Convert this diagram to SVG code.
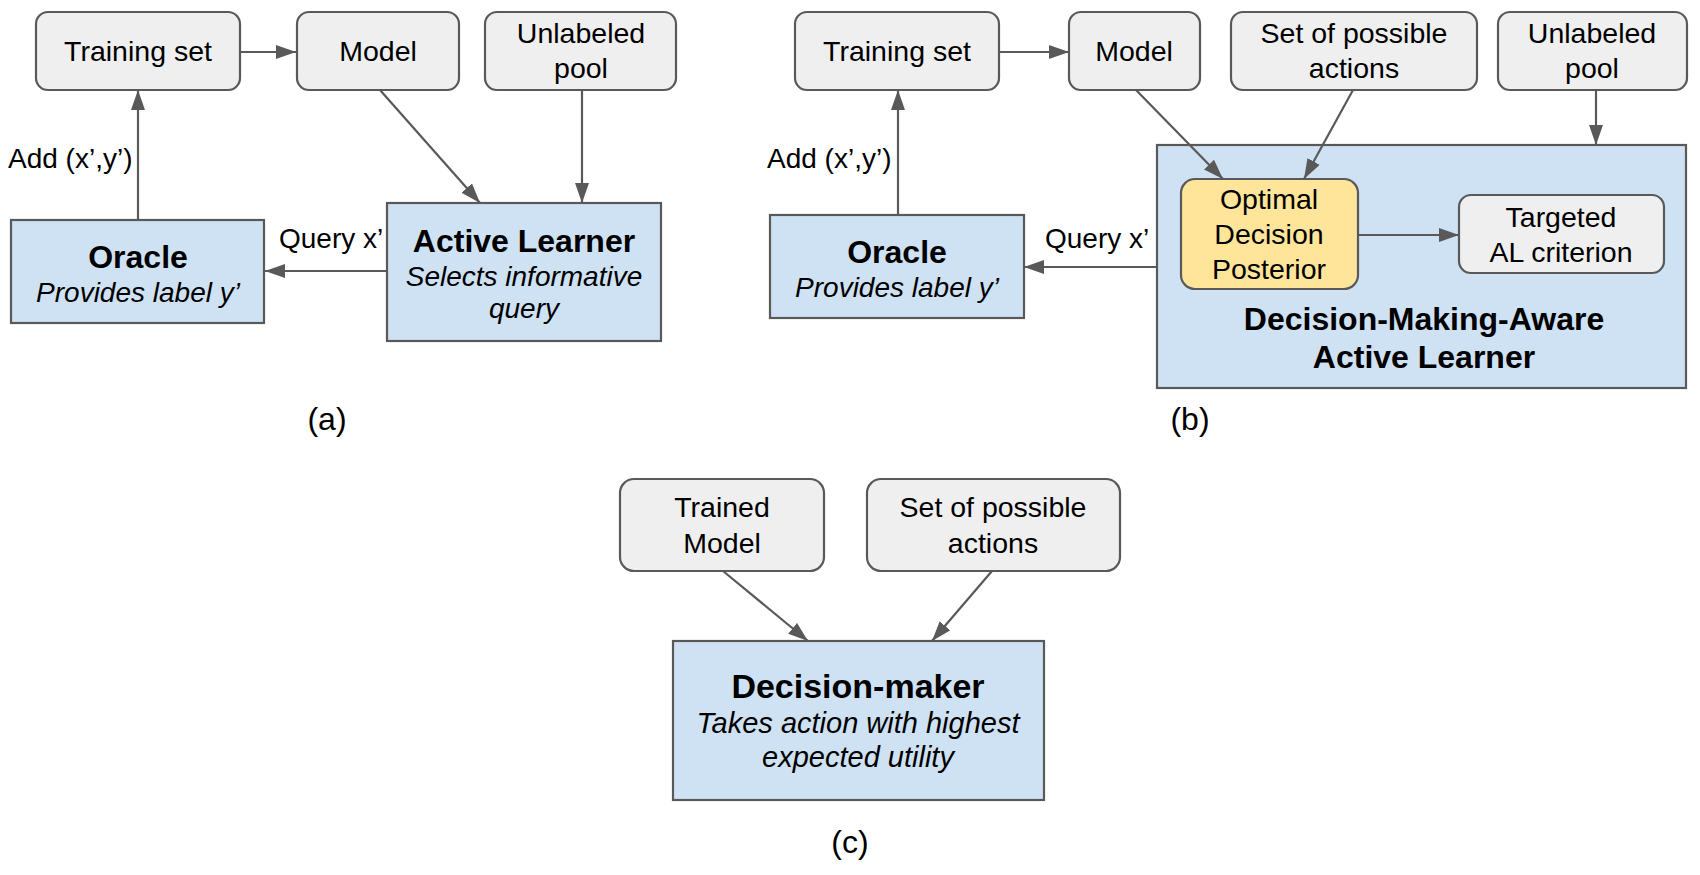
<svg xmlns="http://www.w3.org/2000/svg" width="1700" height="875" viewBox="0 0 1700 875">
<defs>
<marker id="ah" markerUnits="userSpaceOnUse" markerWidth="22" markerHeight="16" refX="20" refY="7" orient="auto">
<path d="M0,0 L20,7 L0,14 z" fill="#595959"/>
</marker>
<style>
.g{fill:#efefef;stroke:#595959;stroke-width:2.2}
.b{fill:#cfe2f3;stroke:#595959;stroke-width:2.2}
.y{fill:#ffe599;stroke:#595959;stroke-width:2.2}
.c{stroke:#595959;stroke-width:2.2;fill:none;marker-end:url(#ah)}
text{font-family:"Liberation Sans",Arial,sans-serif;fill:#000}
.t{font-size:28.5px;text-anchor:middle}
.l{font-size:28px}
.h{font-size:32px;font-weight:bold;text-anchor:middle}
.i{font-size:28px;font-style:italic;text-anchor:middle}
.p{font-size:32px;text-anchor:middle}
</style>
</defs>
<rect width="1700" height="875" fill="#fff"/>

<!-- Panel (a) -->
<g id="a-training-set">
<rect class="g" x="36" y="12" width="204" height="78" rx="12"/>
<text class="t" x="138" y="61">Training set</text>
</g>
<g id="a-model">
<rect class="g" x="297" y="12" width="162" height="78" rx="12"/>
<text class="t" x="378" y="61">Model</text>
</g>
<g id="a-unlabeled-pool">
<rect class="g" x="485" y="12" width="191" height="78" rx="12"/>
<text class="t" x="581" y="43">Unlabeled</text>
<text class="t" x="581" y="78">pool</text>
</g>
<g id="a-oracle">
<rect class="b" x="11" y="220" width="253" height="103"/>
<text class="h" x="138" y="268">Oracle</text>
<text class="i" x="138" y="302">Provides label y’</text>
</g>
<g id="a-active-learner">
<rect class="b" x="387" y="203" width="274" height="138"/>
<text class="h" x="524" y="252">Active Learner</text>
<text class="i" x="524" y="286">Selects informative</text>
<text class="i" x="524" y="318">query</text>
</g>
<text class="p" x="327" y="430">(a)</text>

<!-- Panel (b) -->
<g id="b-training-set">
<rect class="g" x="795" y="12" width="204" height="78" rx="12"/>
<text class="t" x="897" y="61">Training set</text>
</g>
<g id="b-model">
<rect class="g" x="1069" y="12" width="131" height="78" rx="12"/>
<text class="t" x="1134" y="61">Model</text>
</g>
<g id="b-actions">
<rect class="g" x="1231" y="12" width="246" height="78" rx="12"/>
<text class="t" x="1354" y="43">Set of possible</text>
<text class="t" x="1354" y="78">actions</text>
</g>
<g id="b-unlabeled-pool">
<rect class="g" x="1498" y="12" width="189" height="78" rx="12"/>
<text class="t" x="1592" y="43">Unlabeled</text>
<text class="t" x="1592" y="78">pool</text>
</g>
<g id="b-oracle">
<rect class="b" x="770" y="215" width="254" height="103"/>
<text class="h" x="897" y="263">Oracle</text>
<text class="i" x="897" y="297">Provides label y’</text>
</g>
<g id="b-dm-active-learner">
<rect class="b" x="1157" y="145" width="529" height="243"/>
<text class="h" x="1424" y="330">Decision-Making-Aware</text>
<text class="h" x="1424" y="368">Active Learner</text>
</g>
<g id="b-optimal-decision-posterior">
<rect class="y" x="1181" y="179" width="177" height="110" rx="14"/>
<text class="t" x="1269" y="209">Optimal</text>
<text class="t" x="1269" y="244">Decision</text>
<text class="t" x="1269" y="279">Posterior</text>
</g>
<g id="b-targeted-al">
<rect class="g" x="1459" y="195" width="205" height="78" rx="12"/>
<text class="t" x="1561" y="227">Targeted</text>
<text class="t" x="1561" y="262">AL criterion</text>
</g>
<text class="p" x="1190" y="430">(b)</text>

<!-- Panel (c) -->
<g id="c-trained-model">
<rect class="g" x="620" y="479" width="204" height="92" rx="14"/>
<text class="t" x="722" y="517">Trained</text>
<text class="t" x="722" y="553">Model</text>
</g>
<g id="c-actions">
<rect class="g" x="867" y="479" width="253" height="92" rx="14"/>
<text class="t" x="993" y="517">Set of possible</text>
<text class="t" x="993" y="553">actions</text>
</g>
<g id="c-decision-maker">
<rect class="b" x="673" y="641" width="371" height="159"/>
<text class="h" x="858" y="698" style="font-size:34px">Decision-maker</text>
<text class="i" x="858" y="733" style="font-size:29px">Takes action with highest</text>
<text class="i" x="858" y="767" style="font-size:29px">expected utility</text>
</g>
<text class="p" x="850" y="853">(c)</text>

<g id="connectors">
<line class="c" x1="240" y1="52" x2="296" y2="52"/>
<line class="c" x1="138" y1="220" x2="138" y2="90"/>
<line class="c" x1="380" y1="90" x2="480" y2="203"/>
<line class="c" x1="582" y1="90" x2="582" y2="203"/>
<line class="c" x1="387" y1="271" x2="265" y2="271"/>

<line class="c" x1="999" y1="52" x2="1069" y2="52"/>
<line class="c" x1="898" y1="215" x2="898" y2="90"/>
<line class="c" x1="1136" y1="90" x2="1223" y2="179"/>
<line class="c" x1="1353" y1="90" x2="1304" y2="179"/>
<line class="c" x1="1596" y1="90" x2="1596" y2="145"/>
<line class="c" x1="1157" y1="267" x2="1024" y2="267"/>
<line class="c" x1="1358" y1="235" x2="1459" y2="235"/>

<line class="c" x1="723" y1="571" x2="808" y2="641"/>
<line class="c" x1="992" y1="571" x2="932" y2="641"/>
</g>

<g id="edge-labels">
<text class="l" x="8" y="168">Add (x’,y’)</text>
<text class="l" x="279" y="248">Query x’</text>
<text class="l" x="767" y="168">Add (x’,y’)</text>
<text class="l" x="1045" y="248">Query x’</text>
</g>
</svg>
